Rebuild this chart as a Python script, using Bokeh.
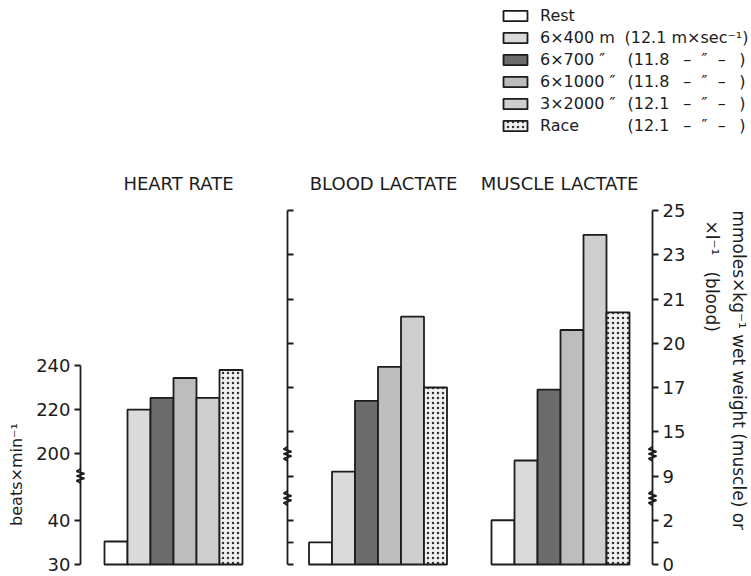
import numpy as np
from bokeh.plotting import figure
from bokeh.models import Range1d, LinearAxis, FixedTicker, Legend, LegendItem
from bokeh.embed import file_html
from bokeh.resources import INLINE
from bokeh.core.properties import value

# ---------------- data ----------------
NB = "\u00a0"
sessions = ["Rest", "6×400 m", "6×700 ″", "6×1000 ″", "3×2000 ″", "Race"]
speeds = ["", "(12.1 m×sec⁻¹)", "(11.8", "(11.8", "(12.1", "(12.1"]
heart_rate = [35.2, 220.0, 225.3, 234.3, 225.3, 237.9]          # beats/min
blood_lactate = [1.0, 9.6, 16.4, 18.4, 20.6, 17.0]              # axis units
muscle_lactate = [2.0, 11.1, 16.9, 20.3, 23.9, 20.7]            # axis units
panel_titles = ["HEART RATE", "BLOOD LACTATE", "MUSCLE LACTATE"]
hr_ticks = [30, 40, 200, 220, 240]
lac_ticks = [0, 2, 9, 15, 17, 20, 21, 23, 25]

# ---------------- layout ----------------
W, H = 751, 576
PX = 44.25           # pixels per axis step
BASE = 564           # page y of the baseline
FONT = value("DejaVu Sans")
INK = "#1c1c1c"


def X(page_x):
    return page_x


def Y(page_y):
    return (BASE - page_y) / PX


# broken scales: axis steps are equally spaced
hr_pos = [0, 1, 2.5, 3.5, 4.5]
lac_pos = list(range(len(lac_ticks)))


def hr_u(v):
    return np.interp(v, hr_ticks, hr_pos)


def lac_u(v):
    return np.interp(v, lac_ticks, lac_pos)


p = figure(width=W, height=H, output_backend="svg", toolbar_location=None,
           x_axis_type=None, y_axis_type=None, min_border=0,
           x_range=Range1d(0, W), y_range=Range1d(Y(H), Y(0)))
p.outline_line_color = None
p.background_fill_color = "white"

GROUP_LEFT = [104, 308.5, 491]
BAR_W = 23
fills = ["white", "#dadada", "#6c6c6c", "#bdbdbd", "#cecece", "#f2f2f2"]
hatches = [None, None, None, None, None, "dot"]

renderers = []
for i, s in enumerate(sessions):
    xs = [X(g) + (i + 0.5) * BAR_W for g in GROUP_LEFT]
    tops = [float(hr_u(heart_rate[i])), float(lac_u(blood_lactate[i])),
            float(lac_u(muscle_lactate[i]))]
    kw = {}
    if hatches[i]:
        kw = dict(hatch_pattern=hatches[i], hatch_color="#333333",
                  hatch_scale=5, hatch_weight=1.3)
    r = p.vbar(x=xs, top=tops, bottom=0, width=BAR_W, fill_color=fills[i],
               line_color=INK, line_width=1.8, **kw)
    renderers.append(r)

# ---------------- axes ----------------
def style(ax, fs="18px"):
    ax.axis_line_color = INK
    ax.axis_line_width = 1.8
    ax.major_tick_line_color = INK
    ax.major_tick_line_width = 1.8
    ax.minor_tick_line_color = INK
    ax.minor_tick_line_width = 1.8
    ax.major_label_text_font = "DejaVu Sans"
    ax.major_label_text_font_size = fs
    ax.major_label_text_color = INK


left = LinearAxis(fixed_location=X(80),
                  ticker=FixedTicker(ticks=[float(t) for t in hr_pos]),
                  major_label_overrides={float(u): str(v) for u, v in zip(hr_pos, hr_ticks)},
                  bounds=(0, hr_pos[-1]), major_tick_out=6, major_tick_in=0,
                  major_label_standoff=4)
style(left)
p.add_layout(left, "left")

mid = LinearAxis(fixed_location=X(287),
                 ticker=FixedTicker(ticks=[float(t) for t in lac_pos], minor_ticks=[0.5]),
                 bounds=(0, lac_pos[-1]), major_tick_out=0, major_tick_in=6,
                 minor_tick_out=0, minor_tick_in=6)
style(mid)
mid.major_label_text_color = None
p.add_layout(mid, "left")

right = LinearAxis(fixed_location=X(652),
                   ticker=FixedTicker(ticks=[float(t) for t in lac_pos], minor_ticks=[0.5]),
                   major_label_overrides={float(u): l for u, l in zip(lac_pos, [str(t) for t in lac_ticks])},
                   bounds=(0, lac_pos[-1]), major_tick_out=6, major_tick_in=0,
                   minor_tick_out=6, minor_tick_in=0, major_label_standoff=4)
style(right)
p.add_layout(right, "right")

# axis breaks (zig-zags)
zdx = np.array([0, -4, 4, -4, 4, -4, 0])
zdy = np.array([7, 4.7, 2.3, 0, -2.3, -4.7, -7]) / PX
zx, zy = [], []
for ax_x, u in [(80, 2.0), (287, 1.5), (287, 2.5), (652, 1.5), (652, 2.5)]:
    zx.append(list(X(ax_x) + zdx))
    zy.append(list(u + zdy))
p.multi_line(zx, zy, line_color=INK, line_width=1.8)

# ---------------- texts ----------------
p.text(x=[X(178), X(383), X(559)], y=[Y(183)] * 3, text=panel_titles,
       text_font=FONT, text_font_size=value("18px"), text_color=INK,
       text_align="center", text_baseline="middle")

p.text(x=[X(16)], y=[Y(474)], text=["beats×min⁻¹"], angle=np.pi / 2,
       text_font=FONT, text_font_size=value("16px"), text_color=INK,
       text_align="center", text_baseline="middle")

p.text(x=[X(738), X(711)], y=[Y(210), Y(220)],
       text=["mmoles×kg⁻¹ wet weight (muscle) or", "×l⁻¹" + NB * 3 + "(blood)"],
       angle=-np.pi / 2, text_font=FONT, text_font_size=value("17px"),
       text_color=INK, text_align="left", text_baseline="middle")

# ---------------- legend ----------------
legend = Legend(items=[LegendItem(label=s, renderers=[r]) for s, r in zip(sessions, renderers)],
                location=(X(500), H - 135), orientation="vertical",
                glyph_width=30, glyph_height=13, label_standoff=10,
                label_height=20, spacing=2, padding=0, margin=0,
                border_line_color=None, background_fill_alpha=0,
                label_text_font="DejaVu Sans", label_text_font_size="16px",
                label_text_color=INK)
p.add_layout(legend)

row_y = [(H - (15 + 22 * k) - (H - BASE)) / PX for k in range(1, 6)]
p.text(x=[X(624)] + [X(627)] * 4, y=row_y, text=speeds[1:],
       text_font=FONT, text_font_size=value("16px"), text_color=INK,
       text_align="left", text_baseline="middle")
p.text(x=[X(704)] * 4, y=row_y[1:], text=["–" + NB * 2 + "″" + NB * 2 + "–"] * 4,
       text_font=FONT, text_font_size=value("16px"), text_color=INK,
       text_align="center", text_baseline="middle")
p.text(x=[X(745)] * 4, y=row_y[1:], text=[")"] * 4,
       text_font=FONT, text_font_size=value("16px"), text_color=INK,
       text_align="right", text_baseline="middle")

open("out.html", "w").write(file_html(p, INLINE))
